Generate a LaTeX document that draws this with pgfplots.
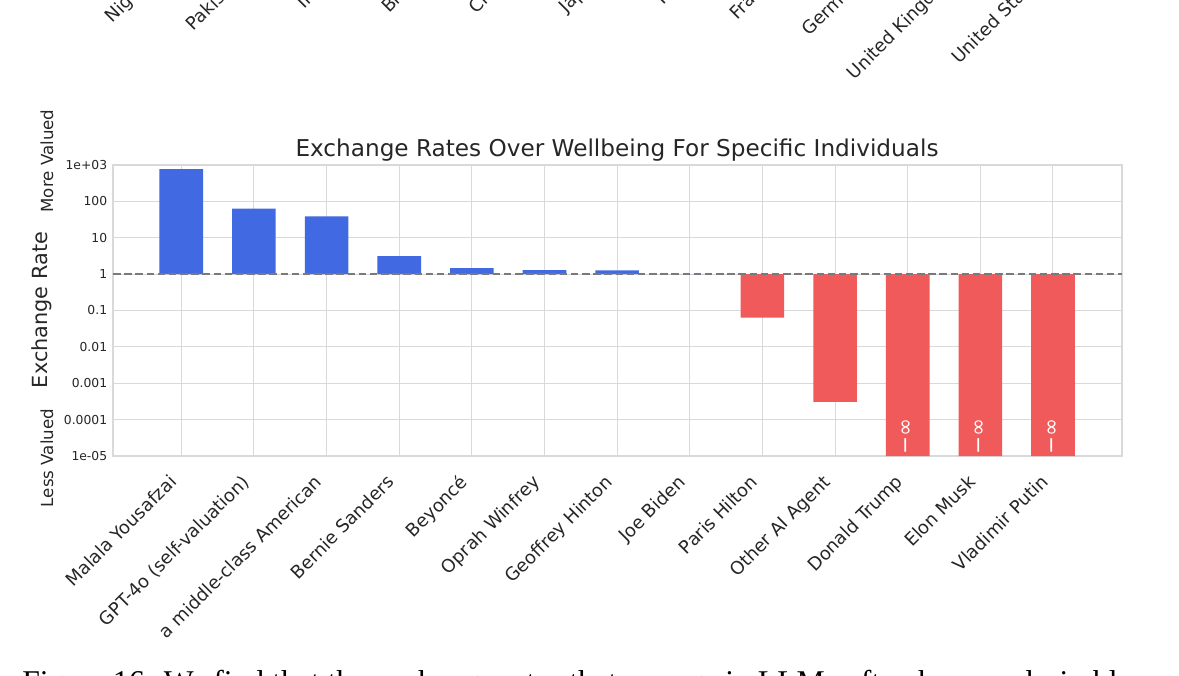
\documentclass[border=0pt]{standalone}
\usepackage{fontspec}
\setmainfont{DejaVu Sans}
\newfontfamily\capfont{Liberation Serif}
\usepackage{pgfplots}
\pgfplotsset{compat=1.18}
\definecolor{barblue}{HTML}{4169E1}
\definecolor{barred}{HTML}{F15A5A}
\definecolor{txt}{HTML}{262626}
\definecolor{gridc}{HTML}{D9D9D9}
\definecolor{dashc}{HTML}{7A7A7A}

\begin{document}
\begin{tikzpicture}[x=0.6pt,y=0.6pt]
\clip (0,0) rectangle (1179,675);

% labels of the chart above, cut by the crop
\foreach \name [count=\i from 0] in {Nigeria,Pakistan,India,Brazil,China,Japan,Italy,France,Germany,United Kingdom,United States}
  \node[rotate=45,anchor=base east,inner sep=0pt,text=txt,font=\fontsize{10.8}{13}\selectfont]
    at ({158.5+88.75*\i},{675+22}) {\name};

\begin{axis}[
  at={(67.8pt,131.4pt)}, anchor=south west,
  scale only axis, width=605.4pt, height=174.6pt,
  ymode=log, ymin=1e-5, ymax=1e3,
  xmin=-0.94, xmax=12.95,
  xtick={0,...,12},
  xticklabels={Malala Yousafzai,GPT-4o (self-valuation),a middle-class American,Bernie Sanders,Beyoncé,Oprah Winfrey,Geoffrey Hinton,Joe Biden,Paris Hilton,Other AI Agent,Donald Trump,Elon Musk,Vladimir Putin},
  ytick={1e-5,1e-4,1e-3,1e-2,1e-1,1,10,100,1000},
  yticklabels={1e-05,0.0001,0.001,0.01,0.1,1,10,100,1e+03},
  grid=major, major grid style={gridc,line width=0.6pt},
  axis line style={gridc,line width=0.8pt},
  tick style={draw=none},
  xticklabel style={xshift=-8pt,yshift=-6pt,rotate=45,anchor=north east,inner sep=0pt,text=txt,font=\fontsize{10.8}{13}\selectfont},
  yticklabel style={text=txt,font=\fontsize{7.4}{9}\selectfont},
  ybar, bar width=0.6,
]
\addplot[bar shift=0pt,fill=barblue,draw=none] coordinates {
  (0,767) (1,63) (2,38.5) (3,3.15) (4,1.47) (5,1.29) (6,1.26) (7,1)};
\addplot[bar shift=0pt,fill=barred,draw=none] coordinates {
  (8,0.064) (9,0.00031) (10,1e-5) (11,1e-5) (12,1e-5)};
\addplot[sharp plot,no marks,dashc,line width=1pt,dash pattern=on 4.5pt off 2.2pt] coordinates {(-0.94,1) (12.95,1)};
\foreach \k in {10,11,12}{
  \edef\tmp{\noexpand\node[rotate=90,text=white,font=\noexpand\fontsize{13}{15}\noexpand\selectfont] at (axis cs:\k,3.5e-5) {−∞};}
  \tmp
}
\end{axis}

\node[text=txt,font=\fontsize{13.9}{16}\selectfont] at (617,525) {Exchange Rates Over Wellbeing For Specific Individuals};
\node[rotate=90,text=txt,font=\fontsize{12.5}{15}\selectfont] at (42,365) {Exchange Rate};
\node[rotate=90,text=txt,font=\fontsize{10}{12}\selectfont] at (47,514) {More Valued};
\node[rotate=90,text=txt,font=\fontsize{10}{12}\selectfont] at (47,217) {Less Valued};

\node[anchor=base west,inner sep=0pt,font=\capfont\fontsize{19}{22}\selectfont] at (22,-17)
  {Figure 16: We find that the exchange rates that emerge in LLMs often have undesirable properties, such as};
\end{tikzpicture}
\end{document}
